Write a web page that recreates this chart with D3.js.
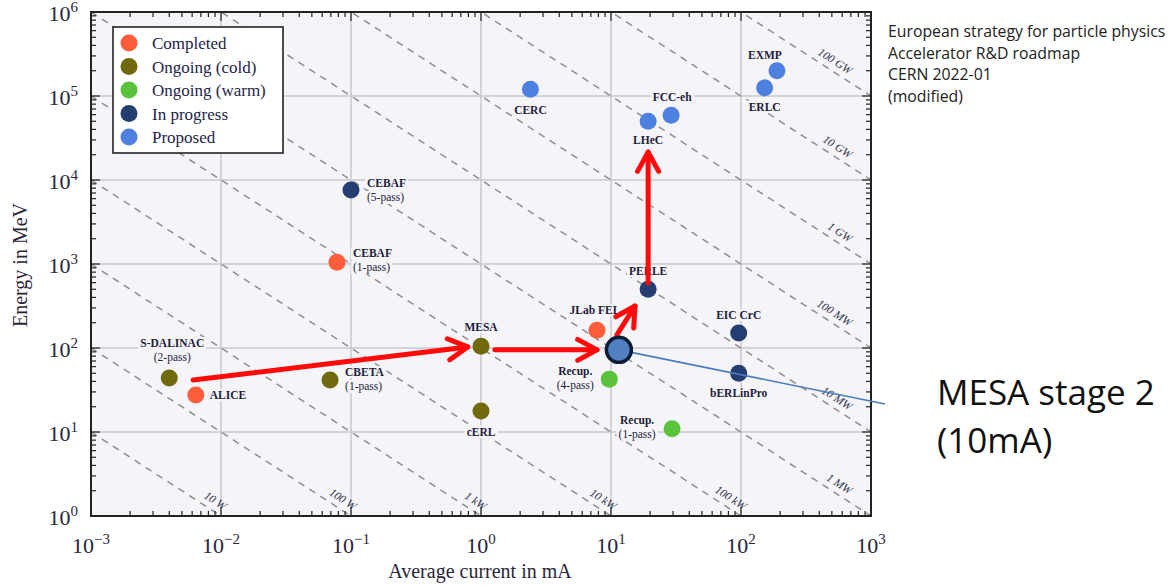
<!DOCTYPE html>
<html>
<head>
<meta charset="utf-8">
<script src="https://cdn.jsdelivr.net/npm/d3@7"></script>
<style>
  body { margin: 0; background: #fff; }
  svg { display: block; }
</style>
</head>
<body>
<svg width="1175" height="585"></svg>
<script>
const W = 1175, H = 585;

// categories (legend order)
const categories = ["Completed", "Ongoing (cold)", "Ongoing (warm)", "In progress", "Proposed"];
const catColors = ["#fd5d3b", "#706a0c", "#5bc23c", "#263d72", "#4e80df"];

// facilities: current in mA, energy in MeV
const facNames   = ["ALICE", "S-DALINAC", "CBETA", "CEBAF", "CEBAF", "MESA", "cERL", "CERC", "JLab FEL",
                    "Recup.", "Recup.", "PERLE", "EIC CrC", "bERLinPro", "LHeC", "FCC-eh", "EXMP", "ERLC"];
const facSubs    = ["", "(2-pass)", "(1-pass)", "(1-pass)", "(5-pass)", "", "", "", "",
                    "(4-pass)", "(1-pass)", "", "", "", "", "", "", ""];
const facCat     = [0, 1, 1, 0, 3, 1, 1, 4, 0, 2, 2, 3, 3, 3, 4, 4, 4, 4];
const facCurrent = [0.0064, 0.004, 0.069, 0.078, 0.1, 1.0, 1.0, 2.4, 7.8,
                    9.7, 29.5, 19.3, 96, 96, 19.3, 29, 189, 152];
const facEnergy  = [27.5, 44, 41.6, 1050, 7600, 105, 17.8, 1.2e5, 163,
                    42.6, 10.9, 500, 151, 50, 5.0e4, 5.9e4, 2.0e5, 1.25e5];

// label placement (dx, dy of first line, anchor) — layout only
const labelPos = [
  [14, 0, "start"], [3, -35, "middle"], [15, -8, "start"], [16, -9, "start"], [16, -7, "start"],
  [0, -19, "middle"], [0, 21, "middle"], [0, 21, "middle"], [-2, -20, "middle"],
  [-34, -8, "middle"], [-35, -9, "middle"], [0, -18, "middle"], [0, -18, "middle"], [0, 20, "middle"],
  [0, 19, "middle"], [1, -18, "middle"], [-12, -16, "middle"], [0, 19, "middle"]
];

// beam power lines, kW (= MeV * mA)
const powerLevels = [0.01, 0.1, 1, 10, 100, 1e3, 1e4, 1e5, 1e6, 1e7, 1e8];
const powerLabels = ["10 W", "100 W", "1 kW", "10 kW", "100 kW", "1 MW", "10 MW", "100 MW", "1 GW", "10 GW", "100 GW"];

// MESA stage 2 marker
const mesa2 = { current: 11.5, energy: 95 };
const mesa2Callout = { current: 1280, energy: 21.5 };

// red upgrade-path arrows [current0, energy0, current1, energy1]
const arrows = [
  [0.0061, 41.6, 0.79, 103],
  [1.28, 95, 7.8, 95],
  [11.1, 143, 15.3, 316],
  [19.3, 594, 19.3, 21500]
];

const xTicks = [-3, -2, -1, 0, 1, 2, 3];
const yTicks = [0, 1, 2, 3, 4, 5, 6];

const noteLines = ["European strategy for particle physics", "Accelerator R&D roadmap", "CERN 2022-01", "(modified)"];

const margin = { left: 91, right: 871, top: 12, bottom: 516 };
const x = d3.scaleLog().domain([1e-3, 1e3]).range([margin.left, margin.right]);
const y = d3.scaleLog().domain([1, 1e6]).range([margin.bottom, margin.top]);

const svg = d3.select("svg");
const serif = "'Liberation Serif', 'DejaVu Serif', serif";
const plotBg = "#f4f4f9";

svg.append("rect").attr("width", W).attr("height", H).attr("fill", "#fff");

svg.append("defs").append("clipPath").attr("id", "plotclip")
  .append("rect")
    .attr("x", margin.left).attr("y", margin.top)
    .attr("width", margin.right - margin.left).attr("height", margin.bottom - margin.top);

svg.append("rect")
  .attr("x", margin.left).attr("y", margin.top)
  .attr("width", margin.right - margin.left).attr("height", margin.bottom - margin.top)
  .attr("fill", plotBg);

// grid
const grid = svg.append("g").attr("stroke", "#c9c9cc").attr("stroke-width", 1.5);
xTicks.slice(1, -1).forEach(e => {
  grid.append("line").attr("x1", x(10 ** e)).attr("x2", x(10 ** e)).attr("y1", margin.top).attr("y2", margin.bottom);
});
yTicks.slice(1, -1).forEach(e => {
  grid.append("line").attr("y1", y(10 ** e)).attr("y2", y(10 ** e)).attr("x1", margin.left).attr("x2", margin.right);
});

// power lines
const plines = svg.append("g").attr("clip-path", "url(#plotclip)");
const line = d3.line().x(d => x(d[0])).y(d => y(d[1]));
plines.selectAll("path")
  .data(powerLevels)
  .join("path")
    .attr("fill", "none")
    .attr("stroke", "#8e8e92")
    .attr("stroke-width", 1.5)
    .attr("stroke-dasharray", "7,6")
    .attr("d", p => line([[1e-3, p / 1e-3], [1e3, p / 1e3]]));

const dirX = x(10) - x(1), dirY = y(0.1) - y(1);
const dlen = Math.hypot(dirX, dirY);
const ux = dirX / dlen, uy = dirY / dlen;
const angle = Math.atan2(uy, ux) * 180 / Math.PI;
powerLevels.forEach((p, i) => {
  let ex, ey, back;
  if (p < 1e3) { ex = x(p); ey = y(1); back = 1; }
  else { ex = x(1e3); ey = y(p / 1e3); back = 30; }
  const off = 10;
  const cx = ex - back * ux + off * uy;
  const cy = ey - back * uy - off * ux;
  svg.append("text")
    .attr("transform", `translate(${cx},${cy}) rotate(${angle})`)
    .attr("text-anchor", "end")
    .attr("dy", "0.35em")
    .attr("font-family", serif)
    .attr("font-style", "italic")
    .attr("font-size", 11.5)
    .attr("fill", "#33334a")
    .text(powerLabels[i]);
});

// ticks
const ticks = svg.append("g").attr("stroke", "#222").attr("stroke-width", 1.2);
const minorVals = [];
for (let e = -3; e < 3; e++) for (let m = 2; m < 10; m++) minorVals.push(m * 10 ** e);
const minorY = [];
for (let e = 0; e < 6; e++) for (let m = 2; m < 10; m++) minorY.push(m * 10 ** e);
minorVals.forEach(v => {
  ticks.append("line").attr("x1", x(v)).attr("x2", x(v)).attr("y1", margin.bottom).attr("y2", margin.bottom - 5);
  ticks.append("line").attr("x1", x(v)).attr("x2", x(v)).attr("y1", margin.top).attr("y2", margin.top + 5);
});
xTicks.forEach(e => {
  ticks.append("line").attr("x1", x(10 ** e)).attr("x2", x(10 ** e)).attr("y1", margin.bottom).attr("y2", margin.bottom - 9);
  ticks.append("line").attr("x1", x(10 ** e)).attr("x2", x(10 ** e)).attr("y1", margin.top).attr("y2", margin.top + 9);
});
minorY.forEach(v => {
  ticks.append("line").attr("y1", y(v)).attr("y2", y(v)).attr("x1", margin.left).attr("x2", margin.left + 5);
  ticks.append("line").attr("y1", y(v)).attr("y2", y(v)).attr("x1", margin.right).attr("x2", margin.right - 5);
});
yTicks.forEach(e => {
  ticks.append("line").attr("y1", y(10 ** e)).attr("y2", y(10 ** e)).attr("x1", margin.left).attr("x2", margin.left + 9);
  ticks.append("line").attr("y1", y(10 ** e)).attr("y2", y(10 ** e)).attr("x1", margin.right).attr("x2", margin.right - 9);
});

// frame
svg.append("rect")
  .attr("x", margin.left).attr("y", margin.top)
  .attr("width", margin.right - margin.left).attr("height", margin.bottom - margin.top)
  .attr("fill", "none").attr("stroke", "#222").attr("stroke-width", 2);

// tick labels
const tickLabel = (g, e) => {
  g.append("tspan").text("10");
  g.append("tspan").attr("font-size", 15).attr("dy", -9).text(e < 0 ? "\u2212" + (-e) : e);
};
xTicks.forEach(e => {
  const t = svg.append("text")
    .attr("x", x(10 ** e)).attr("y", 553)
    .attr("text-anchor", "middle")
    .attr("font-family", serif).attr("font-size", 22).attr("fill", "#2a2538");
  tickLabel(t, e);
});
yTicks.forEach(e => {
  const t = svg.append("text")
    .attr("x", 78).attr("y", y(10 ** e) + 9)
    .attr("text-anchor", "end")
    .attr("font-family", serif).attr("font-size", 22).attr("fill", "#2a2538");
  tickLabel(t, e);
});

// axis titles
svg.append("text")
  .attr("x", 480).attr("y", 578)
  .attr("text-anchor", "middle")
  .attr("font-family", serif).attr("font-size", 20).attr("fill", "#2a2538")
  .text("Average current in mA");
svg.append("text")
  .attr("transform", "translate(27,265) rotate(-90)")
  .attr("text-anchor", "middle")
  .attr("font-family", serif).attr("font-size", 20).attr("fill", "#2a2538")
  .text("Energy in MeV");

// facility labels (with background patch)
const labels = svg.append("g");
facNames.forEach((name, i) => {
  const px = x(facCurrent[i]), py = y(facEnergy[i]);
  const [dx, dy, anchor] = labelPos[i];
  const rows = [[name, "bold"], [facSubs[i], "normal"]].filter(r => r[0]);
  rows.forEach((r, k) => {
    const t = labels.append("text")
      .attr("x", px + dx).attr("y", py + dy + k * 14 + 4)
      .attr("text-anchor", anchor)
      .attr("font-family", serif).attr("font-size", 11.5)
      .attr("font-weight", r[1])
      .attr("fill", "#1f1d3a")
      .text(r[0]);
    const b = t.node().getBBox();
    labels.insert("rect", "text")
      .attr("x", b.x - 2).attr("y", b.y).attr("width", b.width + 4).attr("height", b.height)
      .attr("fill", plotBg);
  });
});

// points
svg.append("g")
  .selectAll("circle")
  .data(facNames.map((n, i) => i))
  .join("circle")
    .attr("cx", i => x(facCurrent[i]))
    .attr("cy", i => y(facEnergy[i]))
    .attr("r", 8.5)
    .attr("fill", i => catColors[facCat[i]]);

// red arrows
const arrowG = svg.append("g")
  .attr("stroke", "#ff0a0a").attr("stroke-width", 5)
  .attr("stroke-linecap", "round").attr("fill", "none");
arrows.forEach(a => {
  const x0 = x(a[0]), y0 = y(a[1]), x1 = x(a[2]), y1 = y(a[3]);
  const ang = Math.atan2(y1 - y0, x1 - x0);
  const hl = 22, hw = 0.5;
  arrowG.append("line").attr("x1", x0).attr("y1", y0).attr("x2", x1).attr("y2", y1);
  arrowG.append("path")
    .attr("stroke-linejoin", "round")
    .attr("d", `M${x1 - hl * Math.cos(ang - hw)},${y1 - hl * Math.sin(ang - hw)} L${x1},${y1} L${x1 - hl * Math.cos(ang + hw)},${y1 - hl * Math.sin(ang + hw)}`);
});

// MESA stage 2 callout
svg.append("line")
  .attr("x1", x(mesa2.current)).attr("y1", y(mesa2.energy))
  .attr("x2", x(mesa2Callout.current)).attr("y2", y(mesa2Callout.energy))
  .attr("stroke", "#4a7cbd").attr("stroke-width", 1.6);
svg.append("circle")
  .attr("cx", x(mesa2.current)).attr("cy", y(mesa2.energy))
  .attr("r", 12.5)
  .attr("fill", "#5080c2").attr("stroke", "#0e1c33").attr("stroke-width", 3.5);

const sans = "'Open Sans', 'Noto Sans', sans-serif";
svg.append("text").attr("x", 937).attr("y", 405)
  .attr("font-family", sans).attr("font-size", 35).attr("fill", "#111")
  .text("MESA stage 2");
svg.append("text").attr("x", 937).attr("y", 453)
  .attr("font-family", sans).attr("font-size", 35).attr("fill", "#111")
  .text("(10mA)");

// source note
svg.append("g").selectAll("text")
  .data(noteLines)
  .join("text")
    .attr("x", 888).attr("y", (d, i) => 37 + i * 21.5)
    .attr("font-family", sans).attr("font-size", 15.8).attr("fill", "#222")
    .text(d => d);

// legend
const lg = svg.append("g");
lg.append("rect").attr("x", 113).attr("y", 27).attr("width", 170).attr("height", 126)
  .attr("fill", "#fff").attr("stroke", "#222").attr("stroke-width", 1.6);
categories.forEach((c, i) => {
  lg.append("circle").attr("cx", 129).attr("cy", 43 + i * 23.5).attr("r", 8.5).attr("fill", catColors[i]);
  lg.append("text").attr("x", 152).attr("y", 43 + i * 23.5 + 6)
    .attr("font-family", serif).attr("font-size", 17).attr("fill", "#242448")
    .text(c);
});
</script>
</body>
</html>
